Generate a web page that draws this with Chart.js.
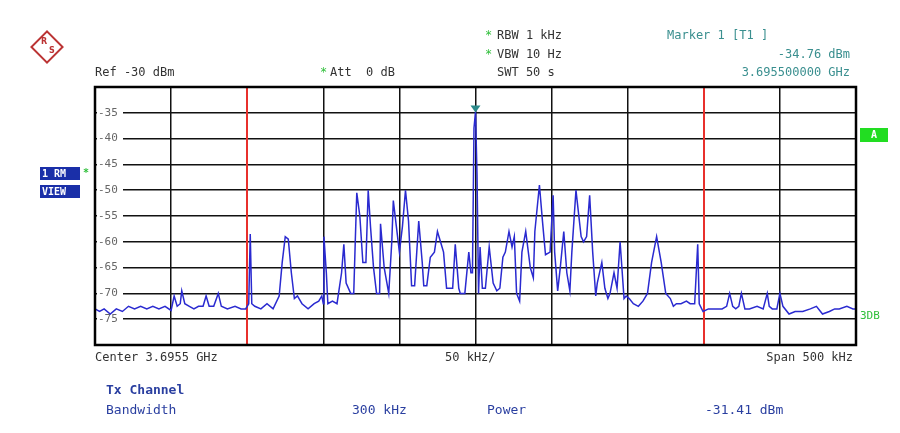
<!DOCTYPE html>
<html>
<head>
<script src="https://cdn.jsdelivr.net/npm/chart.js@4/dist/chart.umd.min.js"></script>
<style>body{margin:0;background:#fff}#wrap{width:900px;height:433px}</style>
</head>
<body>
<div id="wrap"><canvas id="chart"></canvas></div>
<script>
// trace: [offset from center in kHz, level in dBm]
var traceLeft = [
    [-250,-73],[-247,-73.5],[-244,-73],[-240,-74],[-236,-73],[-232,-73.5],[-228,-72.5],[-224,-73],
    [-220,-72.5],[-216,-73],[-212,-72.5],[-208,-73],[-204,-72.5],[-200,-73.3],[-198,-70.5],[-196,-72.5],
    [-194,-72],[-193,-69.5],[-191,-72],[-188,-72.5],[-185,-73],[-182,-72.5],[-179,-72.5],[-177,-70.5],
    [-175,-72.5],[-172,-72.5],[-169,-70],[-167,-72.5],[-163,-73],[-158,-72.5],[-154,-73],[-151,-73],
    [-149,-72],[-148,-58.5],[-147,-72],[-145,-72.5],[-141,-73],[-137,-72],[-133,-73],[-129,-70.5],
    [-127,-64],[-125,-59],[-123,-59.5],[-121,-66],[-119,-71],[-117,-70.5],[-114,-72],[-110,-73],
    [-106,-72],[-103,-71.5],[-101,-70.5],[-100,-72],[-99.6,-59],[-98,-66],[-97,-72],[-94,-71.5],
    [-91,-72],[-88,-66],[-86.5,-60.5],[-85,-68],[-82,-70],[-80,-70],[-79,-60],[-78,-50.5],[-76,-55],
    [-74,-64],[-72,-64],[-70.5,-50],[-69,-57],[-67,-65],[-65,-70],[-63,-70],[-62.4,-56.5],[-60,-65],
    [-57,-70],[-55,-60],[-54,-52],[-52,-57],[-50,-62],[-48,-57],[-46,-50],[-44,-56],[-42,-68.5],
    [-40,-68.5],[-37.3,-56],[-35,-64],[-34,-68.5],[-32,-68.5],[-29.7,-63],[-27,-62],[-25,-58],
    [-23,-60],[-21,-62],[-19,-69],[-17.7,-69],[-15,-69],[-13.3,-60.5],[-11,-69],[-10,-70],[-7,-70],
    [-4.4,-62],[-3,-66],[-2,-66],[-1,-38],[0,-34.8]
];
var traceRight = [
    [1,-47],[2,-70],[3,-61],[4.5,-69],[6.5,-69],[9,-61],[11.6,-68],[14,-69.5],[16,-69],[18,-63],
    [19.6,-62],[22,-58],[24,-61],[25.5,-59],[27,-70],[29,-71.5],[30.5,-62],[33,-58],[36,-65],[38,-67],
    [39,-58],[42,-49],[44,-56],[46,-62.5],[49,-62],[51,-51],[52,-62],[54,-69.5],[55.7,-65],[58,-58],
    [60,-66],[62,-69.5],[63.3,-62],[66,-50],[69.4,-59],[71,-60],[73,-59],[75,-51],[77,-62],[79,-70.5],
    [80,-68],[83,-64],[85,-69],[87,-71],[88.4,-70],[91,-66],[93,-69],[95,-60],[97.6,-71],[99,-70.5],
    [101,-71],[103.7,-72],[107,-72.5],[110,-71.5],[113,-70],[115.7,-64],[119,-59],[122,-64],[125,-70],
    [128,-71],[130,-72.5],[132,-72],[135,-72],[138.6,-71.5],[141,-72],[144,-72],[146,-60.5],[147,-72],
    [149.5,-73.5],[153,-73],[158,-73],[162,-73],[165,-72.5],[167,-70],[169,-72.5],[171,-73],[173,-72.5],
    [174.7,-70],[177,-73],[180,-73],[185,-72.5],[189,-73],[191.7,-70],[193,-72.5],[195,-73],[198,-73],
    [200,-70],[202,-72.5],[206,-74],[210,-73.5],[215,-73.5],[220,-73],[224,-72.5],[228,-74],[232.5,-73.5],
    [236,-73],[239,-73],[244,-72.5],[248,-73],[250,-73]
];
var redLines = [-150, 150];
var yTicks = [-35,-40,-45,-50,-55,-60,-65,-70,-75];

var mono = '"DejaVu Sans Mono", monospace';
var pts = traceLeft.concat(traceRight).map(function (p) { return {x: p[0], y: p[1]}; });

var overlay = {
    id: 'overlay',
    beforeDatasetsDraw: function (chart) {
        var c = chart.ctx, xs = chart.scales.x, ys = chart.scales.y, a = chart.chartArea;
        c.save();
        c.strokeStyle = '#e8302c'; c.lineWidth = 2;
        redLines.forEach(function (f) {
            var px = Math.round(xs.getPixelForValue(f));
            c.beginPath(); c.moveTo(px, a.top); c.lineTo(px, a.bottom); c.stroke();
        });
        c.font = '11px ' + mono; c.textBaseline = 'middle';
        yTicks.forEach(function (v) {
            var py = ys.getPixelForValue(v);
            c.fillStyle = '#fff'; c.fillRect(a.left + 2, py - 6, 26, 12);
            c.fillStyle = '#666'; c.fillText(String(v), a.left + 3, py);
        });
        c.restore();
    },
    afterDraw: function (chart) {
        var c = chart.ctx, xs = chart.scales.x, ys = chart.scales.y, a = chart.chartArea;
        c.save();
        c.strokeStyle = '#000'; c.lineWidth = 2.5;
        c.strokeRect(a.left, a.top, a.right - a.left, a.bottom - a.top);
        // marker
        var mx = xs.getPixelForValue(0), my = ys.getPixelForValue(-34.76);
        c.fillStyle = '#2b8a8a';
        c.beginPath(); c.moveTo(mx - 5, my - 6); c.lineTo(mx + 5, my - 6); c.lineTo(mx, my + 1); c.fill();
        // logo
        c.translate(47, 47); c.rotate(Math.PI / 4);
        c.fillStyle = '#fff'; c.strokeStyle = '#b33'; c.lineWidth = 2;
        c.fillRect(-11, -11, 22, 22); c.strokeRect(-11, -11, 22, 22);
        c.rotate(-Math.PI / 4); c.fillStyle = '#b33'; c.font = 'bold 8px "DejaVu Sans"';
        c.fillText('R', -6, -3); c.fillText('S', 2, 6);
        c.setTransform(1, 0, 0, 1, 0, 0);
        var dpr = chart.currentDevicePixelRatio; c.scale(dpr, dpr);
        c.font = '12px ' + mono; c.textBaseline = 'middle';
        function t(s, x, y, col, al) { c.fillStyle = col; c.textAlign = al || 'left'; c.fillText(s, x, y); }
        var g = '#333', teal = '#3a8f8f', grn = '#2fbf3a', blu = '#2a3fa0';
        t('Ref -30 dBm', 95, 73, g);
        t('*', 320, 73, grn); t('Att  0 dB', 330, 73, g);
        t('*', 485, 36, grn); t('RBW 1 kHz', 497, 36, g);
        t('*', 485, 55, grn); t('VBW 10 Hz', 497, 55, g);
        t('SWT 50 s', 497, 73, g);
        t('Marker 1 [T1 ]', 667, 36, teal);
        t('-34.76 dBm', 850, 55, teal, 'right');
        t('3.695500000 GHz', 850, 73, teal, 'right');
        c.fillStyle = '#1a2fa8'; c.fillRect(40, 167, 40, 13); c.fillRect(40, 185, 40, 13);
        c.font = 'bold 10px ' + mono;
        t('1 RM', 42, 174, '#fff'); t('VIEW', 42, 192, '#fff');
        t('*', 83, 173, grn);
        c.fillStyle = '#22dd22'; c.fillRect(860, 128, 28, 14);
        t('A', 874, 135, '#fff', 'center');
        c.font = '11px ' + mono;
        t('3DB', 860, 316, grn);
        c.font = '12px ' + mono;
        t('Center 3.6955 GHz', 95, 358, g);
        t('50 kHz/', 445, 358, g);
        t('Span 500 kHz', 853, 358, g, 'right');
        c.font = 'bold 13px ' + mono;
        t('Tx Channel', 106, 391, blu);
        c.font = '13px ' + mono;
        t('Bandwidth', 106, 411, blu); t('300 kHz', 352, 411, blu);
        t('Power', 487, 411, blu); t('-31.41 dBm', 705, 411, blu);
        c.restore();
    }
};

new Chart(document.getElementById('chart'), {
    type: 'line',
    data: { datasets: [{ data: pts, borderColor: '#2a2ad0', borderWidth: 1.5, pointRadius: 0, tension: 0 }] },
    options: {
        responsive: true, maintainAspectRatio: false, animation: false,
        layout: { padding: { left: 95, right: 44, top: 87, bottom: 88 } },
        plugins: { legend: { display: false }, tooltip: { enabled: false } },
        scales: {
            x: { type: 'linear', min: -250, max: 250,
                 ticks: { display: false, stepSize: 50 },
                 grid: { color: (ctx) => (redLines.indexOf(ctx.tick && ctx.tick.value) >= 0 ? 'rgba(0,0,0,0)' : '#111'),
                         lineWidth: 1.5, drawTicks: false, tickLength: 0 }, border: { display: false } },
            y: { min: -80, max: -30,
                 ticks: { display: false, stepSize: 5 },
                 grid: { color: '#111', lineWidth: 1.5, drawTicks: false, tickLength: 0 }, border: { display: false } }
        }
    },
    plugins: [overlay]
});
</script>
</body>
</html>
